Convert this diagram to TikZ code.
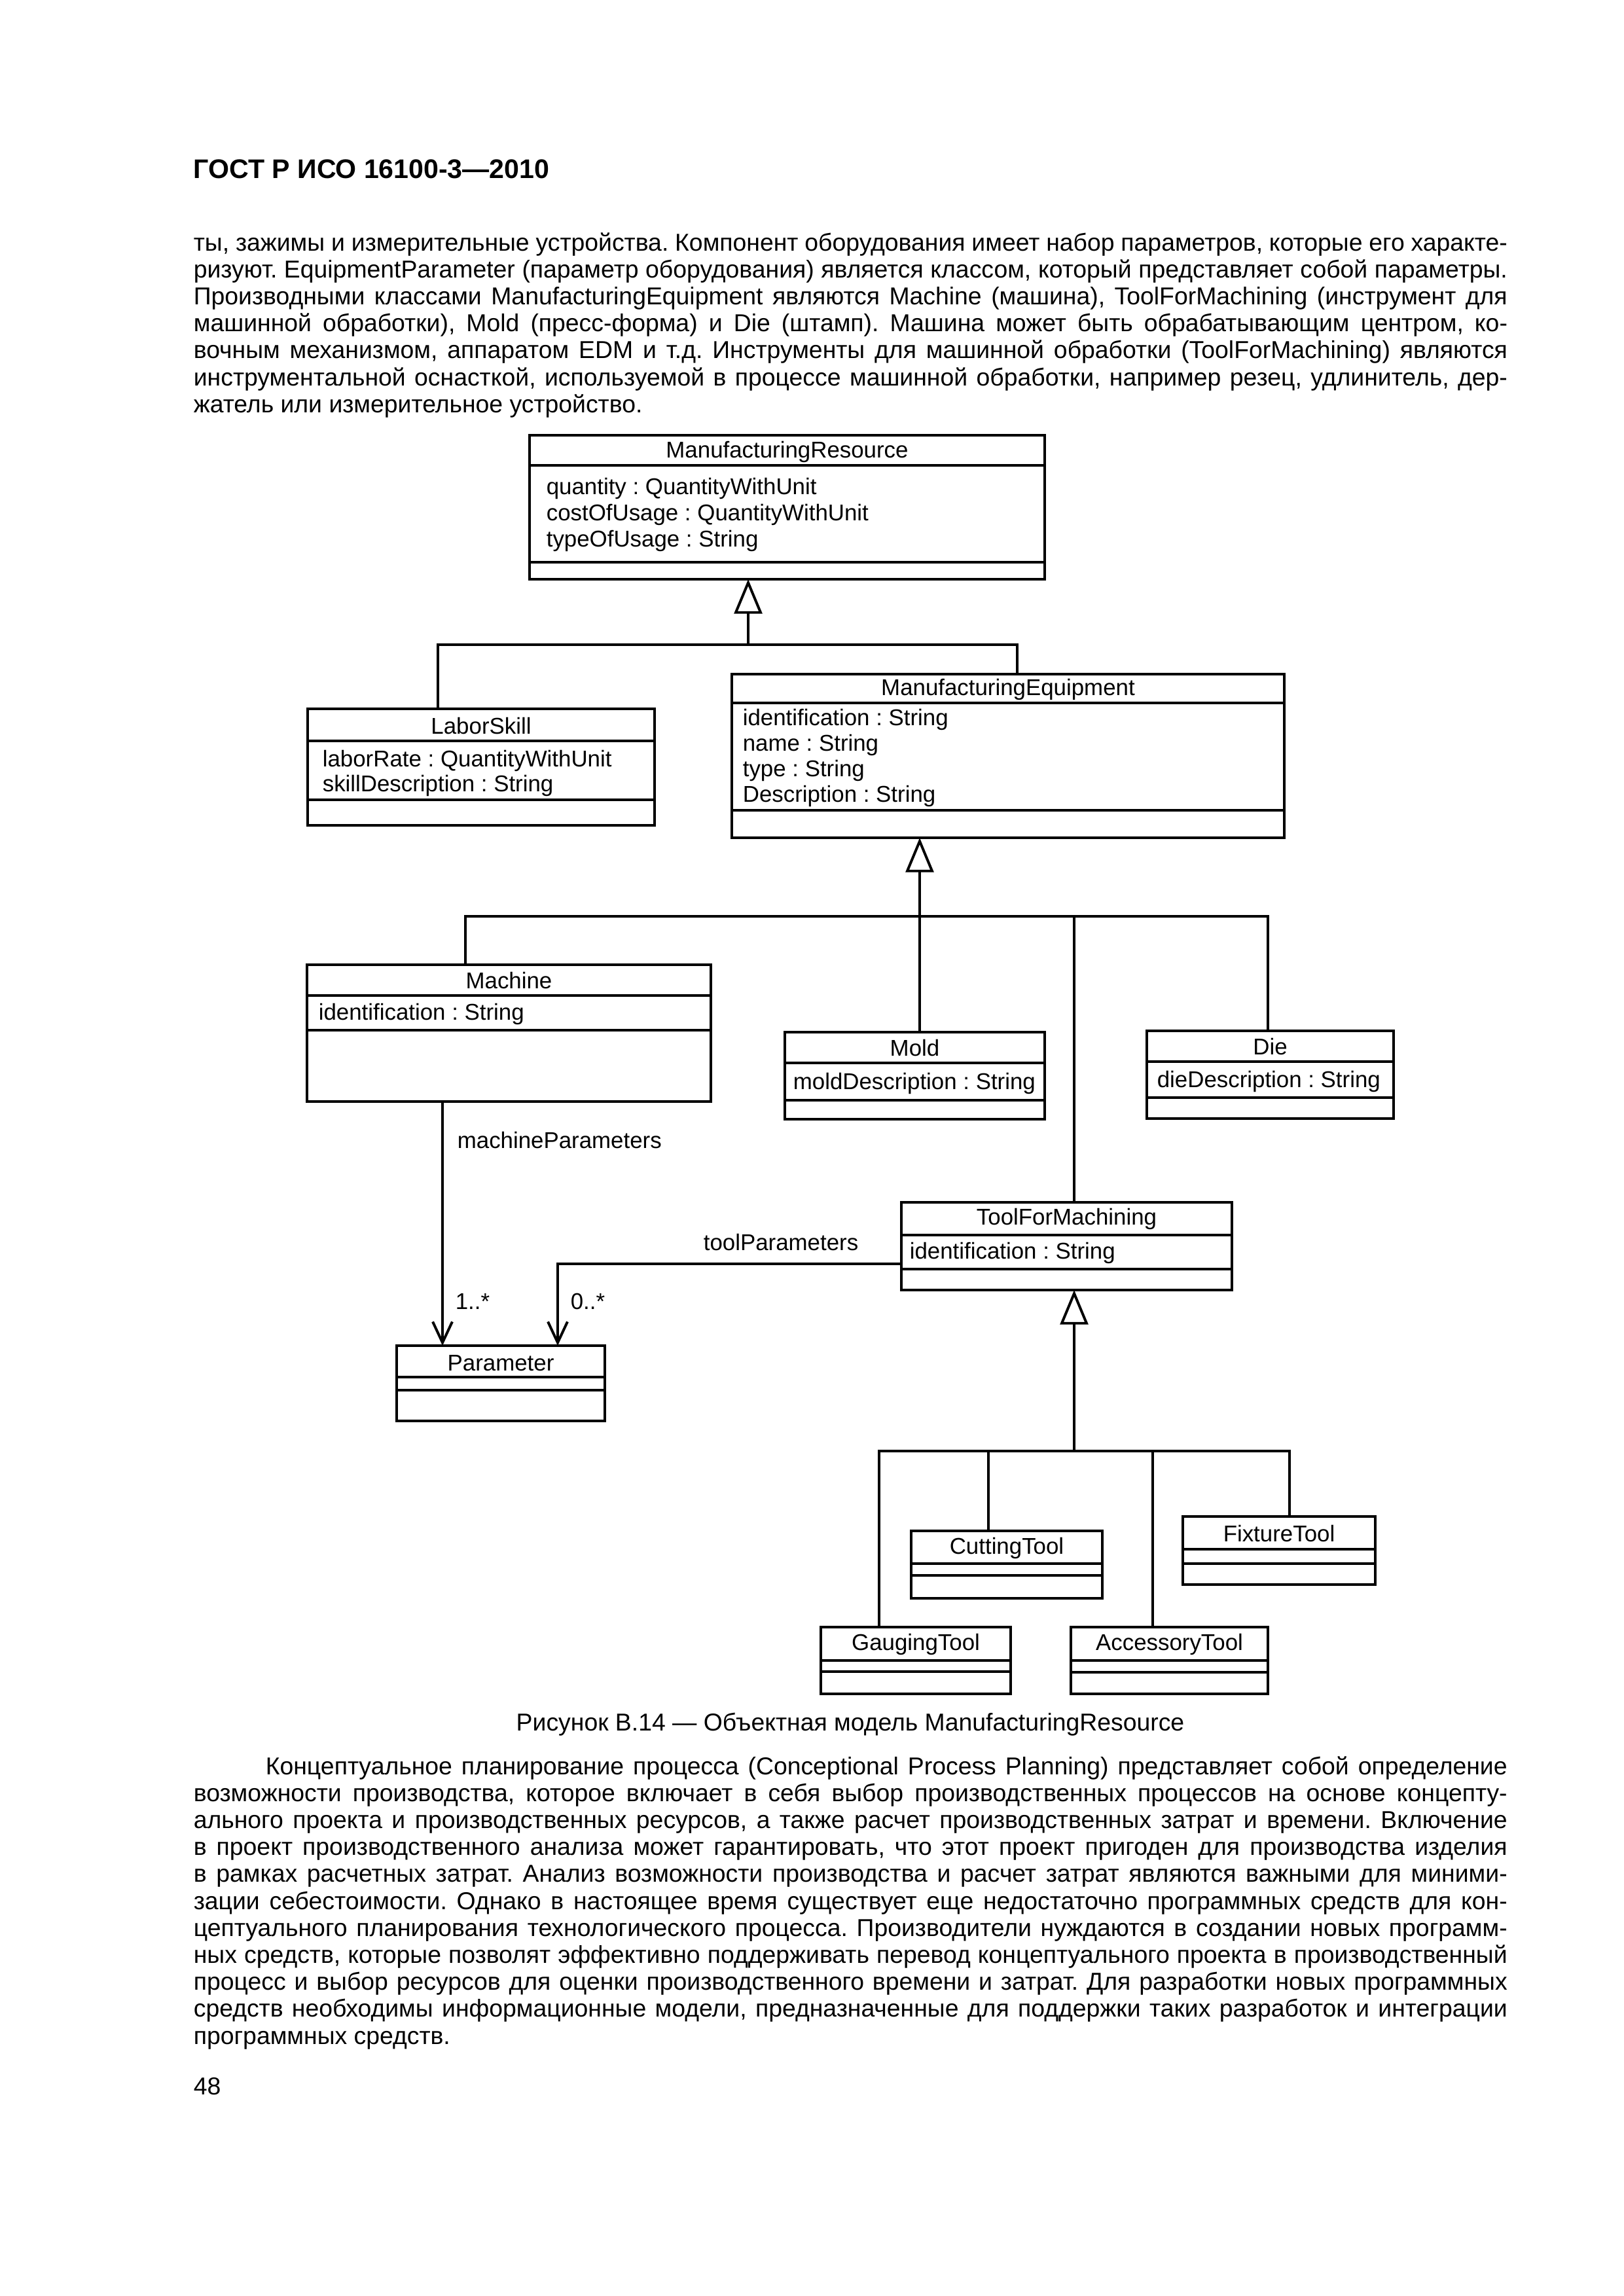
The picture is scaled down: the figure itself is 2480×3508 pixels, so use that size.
\documentclass[tikz,border=0pt]{standalone}
\usepackage{fontspec}
\setmainfont{Liberation Sans}
\usetikzlibrary{arrows.meta,fit}
\newlength\px \setlength\px{0.08468mm}
\newcommand\bodyfont{\fontsize{9}{10}\selectfont}
\newcommand\diafont{\fontsize{8.4}{9.6}\selectfont}
\frenchspacing
\tikzset{
 classbox/.style={draw, line width=1pt, inner sep=0pt, outer sep=0pt},
 sepline/.style={line width=1pt},
 clsname/.style={inner sep=0pt, font=\diafont},
 attr/.style={inner sep=0pt, font=\diafont, anchor=base west},
 conn/.style={line width=0.95pt},
 gen/.style={-{Triangle[open,length=12.7pt,width=10.3pt]}},
 assoc/.style={-{Straight Barb[length=7.7pt,width=7.2pt]}},
 bodyline/.style={inner sep=0pt, anchor=base west, font=\bodyfont},
}
\newcommand\umlbox[9]{%
 \node[classbox, fit={(#2,#3)(#4,#5)}] (#1) {};
 \draw[sepline] (#2,#6) -- (#4,#6);
 \draw[sepline] (#2,#7) -- (#4,#7);
 \node[clsname, anchor=base] (#1-n) at ({(#2+#4)/2},#9) {#8};
}
\newcommand\jline[1]{\makebox[2007\px][s]{#1}}
\begin{document}
\begin{tikzpicture}[x=0.08468mm, y=-0.08468mm]
\fill[white] (0,0) rectangle (2480,3508);
\useasboundingbox (0,0) rectangle (2480,3508);

% header
\node[bodyline, font=\fontsize{9.9}{11}\selectfont\bfseries] (hdr) at (295,272) {ГОСТ Р ИСО 16100-3—2010};

% top paragraph
\node[bodyline] (t1) at (295,383) {\jline{ты, зажимы и измерительные устройства. Компонент оборудования имеет набор параметров, которые его характе-}};
\node[bodyline] (t2) at (295,424.2) {\jline{ризуют. EquipmentParameter (параметр оборудования) является классом, который представляет собой параметры.}};
\node[bodyline] (t3) at (295,465.4) {\jline{Производными классами ManufacturingEquipment являются Machine (машина), ToolForMachining (инструмент для}};
\node[bodyline] (t4) at (295,506.6) {\jline{машинной обработки), Mold (пресс-форма) и Die (штамп). Машина может быть обрабатывающим центром, ко-}};
\node[bodyline] (t5) at (295,547.8) {\jline{вочным механизмом, аппаратом EDM и т.д. Инструменты для машинной обработки (ToolForMachining) являются}};
\node[bodyline] (t6) at (295,589) {\jline{инструментальной оснасткой, используемой в процессе машинной обработки, например резец, удлинитель, дер-}};
\node[bodyline] (t7) at (295,630.2) {жатель или измерительное устройство.};

% class boxes
\umlbox{mr}{809}{665}{1596}{885}{711}{859}{ManufacturingResource}{699}
\node[attr] (mr-a1) at (834,755) {quantity : QuantityWithUnit};
\node[attr] (mr-a2) at (834,795) {costOfUsage : QuantityWithUnit};
\node[attr] (mr-a3) at (834,835) {typeOfUsage : String};

\umlbox{ls}{470}{1083}{1000}{1261}{1132}{1222}{LaborSkill}{1121}
\node[attr] (ls-a1) at (492,1171) {laborRate : QuantityWithUnit};
\node[attr] (ls-a2) at (492,1209) {skillDescription : String};

\umlbox{me}{1118}{1030}{1962}{1280}{1074}{1238}{ManufacturingEquipment}{1062}
\node[attr] (me-a1) at (1134,1108) {identification : String};
\node[attr] (me-a2) at (1134,1147) {name : String};
\node[attr] (me-a3) at (1134,1186) {type : String};
\node[attr] (me-a4) at (1134,1225) {Description : String};

\umlbox{mach}{469}{1474}{1086}{1683}{1521}{1574}{Machine}{1510}
\node[attr] (mach-a1) at (486,1558) {identification : String};

\umlbox{mold}{1199}{1577}{1596}{1710}{1624}{1681}{Mold}{1613}
\node[attr] (mold-a1) at (1211,1664) {moldDescription : String};

\umlbox{die}{1752}{1575}{2129}{1709}{1622}{1677}{Die}{1611}
\node[attr] (die-a1) at (1767,1661) {dieDescription : String};

\umlbox{tfm}{1377}{1837}{1882}{1971}{1887}{1939}{ToolForMachining}{1871}
\node[attr] (tfm-a1) at (1389,1923) {identification : String};

\umlbox{param}{606}{2056}{924}{2171}{2104}{2124}{Parameter}{2094}

\umlbox{cut}{1392}{2339}{1684}{2442}{2389}{2407}{CuttingTool}{2374}
\umlbox{fix}{1807}{2317}{2101}{2421}{2367}{2389}{FixtureTool}{2355}
\umlbox{gauge}{1254}{2486}{1544}{2588}{2537}{2554}{GaugingTool}{2521}
\umlbox{acc}{1636}{2486}{1937}{2588}{2537}{2555}{AccessoryTool}{2521}

% generalization tree 1
\coordinate (j1) at (1143,985);
\coordinate (j1l) at (669,985);
\coordinate (j1r) at (1554,985);
\draw[conn] (j1l |- ls.north) -- (j1l) -- (j1r) -- (j1r |- me.north);
\draw[conn,gen] (j1) -- (j1 |- mr.south);

% generalization tree 2
\coordinate (j2) at (1405,1400);
\coordinate (j2l) at (711,1400);
\coordinate (j2r) at (1937,1400);
\coordinate (j2t) at (1641,1400);
\draw[conn] (j2l |- mach.north) -- (j2l) -- (j2r) -- (j2r |- die.north);
\draw[conn,gen] (j2 |- mold.north) -- (j2 |- me.south);
\draw[conn] (j2t) -- (j2t |- tfm.north);

% generalization tree 3
\coordinate (j3) at (1641,2217);
\coordinate (j3a) at (1343,2217);
\coordinate (j3b) at (1510,2217);
\coordinate (j3c) at (1761,2217);
\coordinate (j3d) at (1970,2217);
\draw[conn] (j3a |- gauge.north) -- (j3a) -- (j3d) -- (j3d |- fix.north);
\draw[conn] (j3b) -- (j3b |- cut.north);
\draw[conn] (j3c) -- (j3c |- acc.north);
\draw[conn,gen] (j3) -- (j3 |- tfm.south);

% associations
\coordinate (ma) at (676,1700);
\draw[conn,assoc] (ma |- mach.south) -- (ma |- param.north);
\coordinate (ta) at (852,1931);
\draw[conn,assoc] (ta -| tfm.west) -- (ta) -- (ta |- param.north);
\node[attr] (lmp) at (698,1754) {machineParameters};
\node[attr] (ltp) at (1074,1910) {toolParameters};
\node[attr] (m1) at (695,2000) {1..*};
\node[attr] (m2) at (871,2000) {0..*};

% caption
\node[inner sep=0pt, anchor=base, font=\bodyfont] (cap) at (1299,2644) {Рисунок В.14 — Объектная модель ManufacturingResource};

% bottom paragraph
\node[bodyline] (b1) at (405,2711) {\makebox[1897\px][s]{Концептуальное планирование процесса (Conceptional Process Planning) представляет собой определение}};
\node[bodyline] (b2) at (295,2752.2) {\jline{возможности производства, которое включает в себя выбор производственных процессов на основе концепту-}};
\node[bodyline] (b3) at (295,2793.4) {\jline{ального проекта и производственных ресурсов, а также расчет производственных затрат и времени. Включение}};
\node[bodyline] (b4) at (295,2834.6) {\jline{в проект производственного анализа может гарантировать, что этот проект пригоден для производства изделия}};
\node[bodyline] (b5) at (295,2875.8) {\jline{в рамках расчетных затрат. Анализ возможности производства и расчет затрат являются важными для миними-}};
\node[bodyline] (b6) at (295,2917) {\jline{зации себестоимости. Однако в настоящее время существует еще недостаточно программных средств для кон-}};
\node[bodyline] (b7) at (295,2958.2) {\jline{цептуального планирования технологического процесса. Производители нуждаются в создании новых программ-}};
\node[bodyline] (b8) at (295,2999.4) {\jline{ных средств, которые позволят эффективно поддерживать перевод концептуального проекта в производственный}};
\node[bodyline] (b9) at (295,3040.6) {\jline{процесс и выбор ресурсов для оценки производственного времени и затрат. Для разработки новых программных}};
\node[bodyline] (b10) at (295,3081.8) {\jline{средств необходимы информационные модели, предназначенные для поддержки таких разработок и интеграции}};
\node[bodyline] (b11) at (295,3123) {программных средств.};

% page number
\node[bodyline] (pg) at (295,3200) {48};
\end{tikzpicture}
\end{document}
